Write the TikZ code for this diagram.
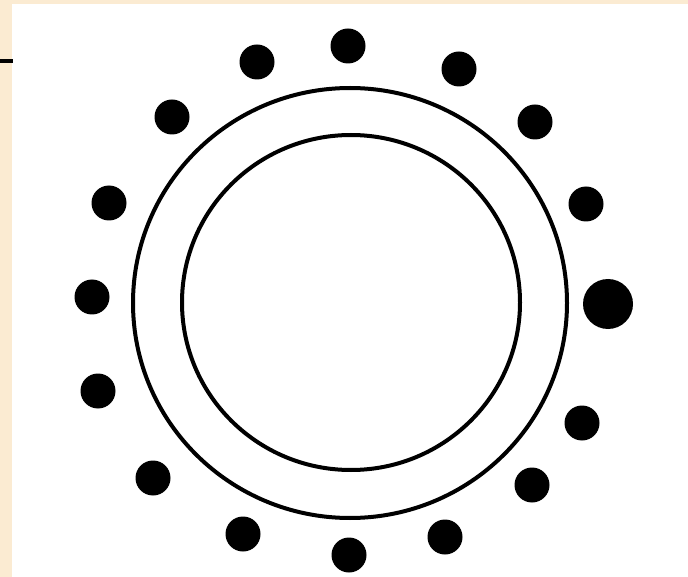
\documentclass[tikz,border=0pt]{standalone}
\definecolor{cream}{HTML}{FBEBD2}
\tikzset{
  dot/.style={circle, fill=black, inner sep=0pt, minimum size=35pt},
  bigdot/.style={circle, fill=black, inner sep=0pt, minimum size=50pt},
  ring/.style={draw=black, line width=4pt},
}
\begin{document}
\begin{tikzpicture}[x=1pt,y=-1pt]
  \fill[cream] (0,0) rectangle (688,577);
  \fill[white] (12,4) rectangle (688,577);
  \useasboundingbox (0,0) rectangle (688,577);
  \coordinate (ls) at (0,61);
  \coordinate (le) at (13,61);
  \draw[line width=3.5pt] (ls) -- (le);
  % rings
  \draw[ring] (350,303) ellipse [x radius=217, y radius=215];
  \draw[ring] (351,302.5) ellipse [x radius=169, y radius=167.5];
  % dots
  \node[dot] (d1) at (348,46) {};
  \node[dot] (d2) at (257,62) {};
  \node[dot] (d3) at (459,69) {};
  \node[dot] (d4) at (172,117) {};
  \node[dot] (d5) at (535,122) {};
  \node[dot] (d6) at (109,203) {};
  \node[dot] (d7) at (586,204) {};
  \node[dot] (d8) at (92,297) {};
  \node[bigdot] (d9) at (608,304) {};
  \node[dot] (d10) at (98,391) {};
  \node[dot] (d11) at (582,423) {};
  \node[dot] (d12) at (153,478) {};
  \node[dot] (d13) at (532,485) {};
  \node[dot] (d14) at (243,534) {};
  \node[dot] (d15) at (445,537) {};
  \node[dot] (d16) at (349,555) {};
\end{tikzpicture}
\end{document}
